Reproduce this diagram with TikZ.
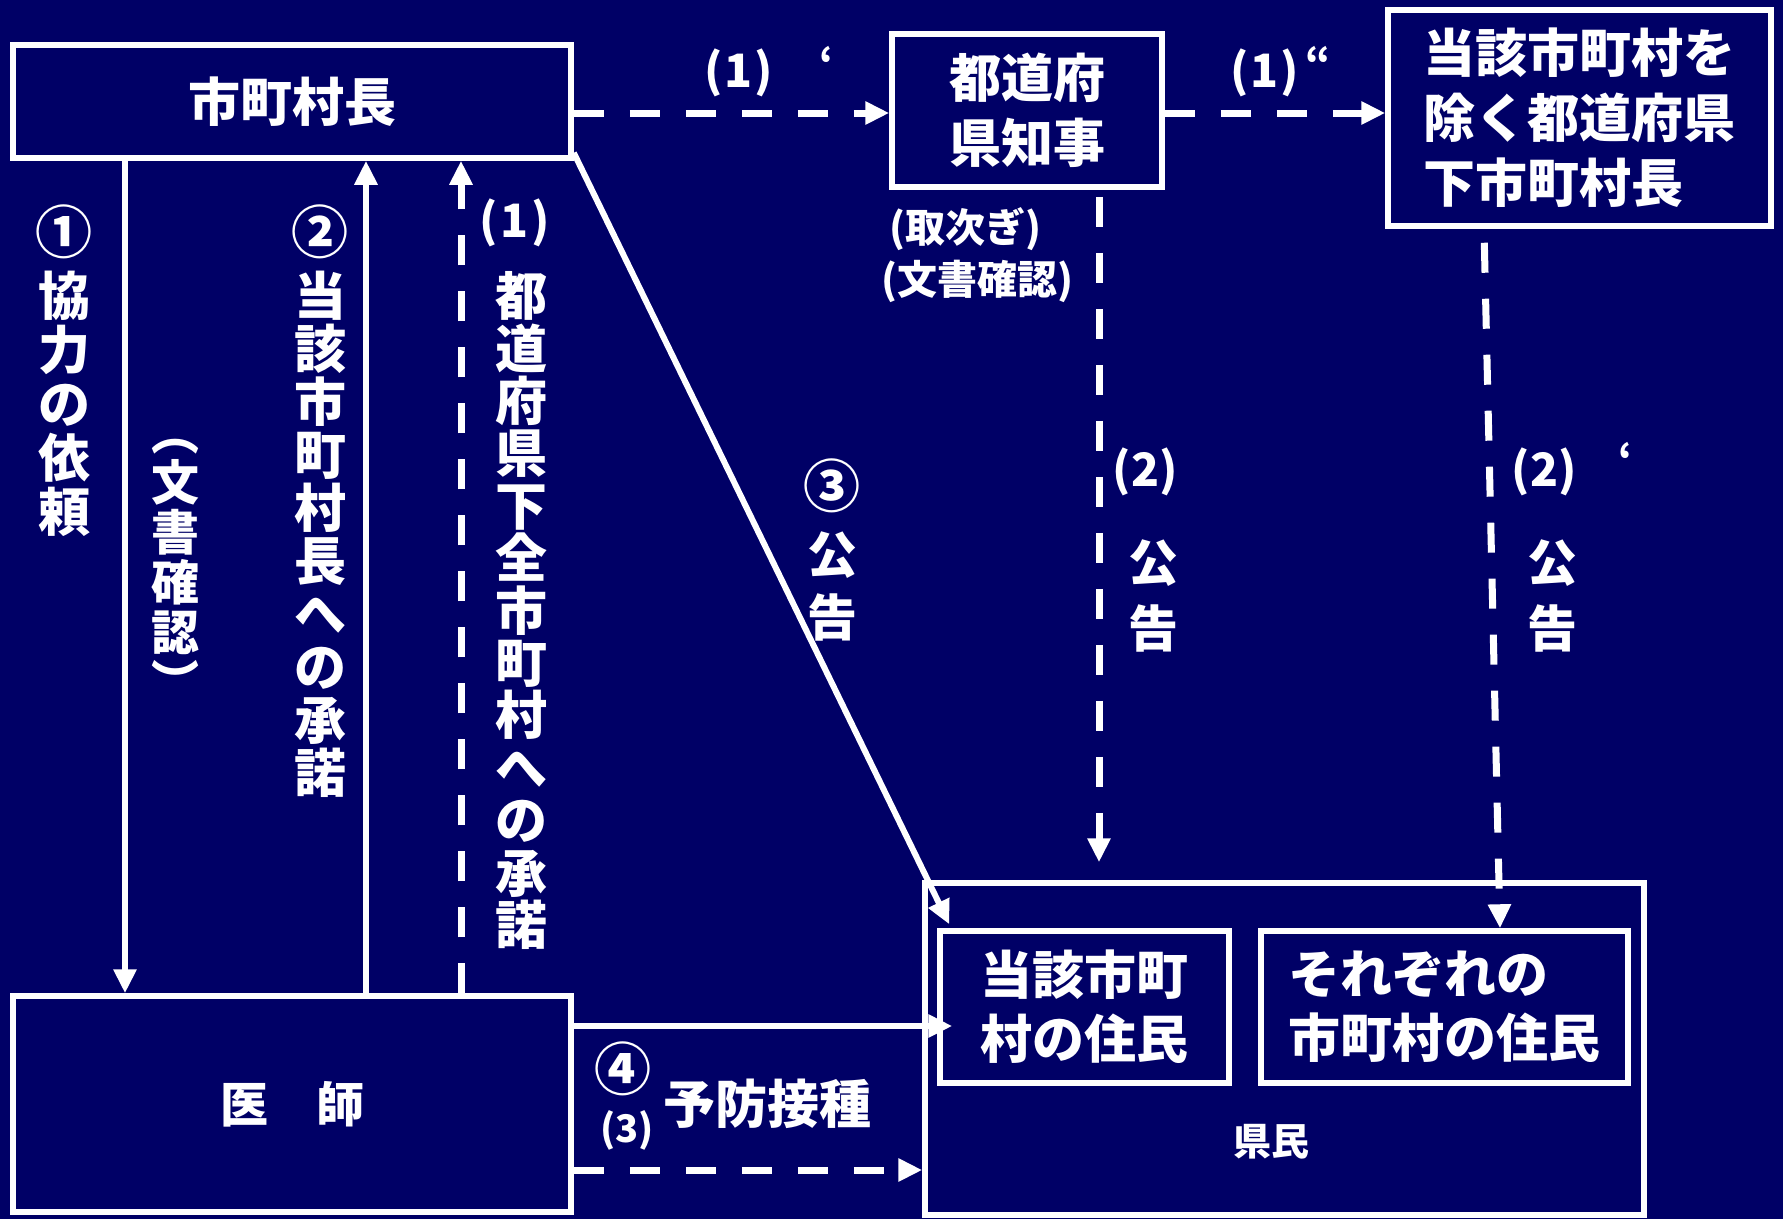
\documentclass[tikz,border=0pt]{standalone}
\usepackage{fontspec}
\setmainfont{Noto Sans CJK JP}
\usetikzlibrary{arrows.meta}
\definecolor{bg}{RGB}{0,0,102}
\newcommand{\jfs}[2]{\bfseries\fontsize{#1}{#2}\selectfont}
\begin{document}
\begin{tikzpicture}[x=1pt,y=-1pt,
  box/.style={draw=white,line width=5.5pt,inner sep=0pt,text=white,align=center,font=\jfs{52}{65}},
  lbl/.style={text=white,inner sep=0pt,align=center,font=\jfs{52}{65}},
  circ/.style={lbl,font=\jfs{57}{60}},
  arr/.style={draw=white,line width=6pt,-{Triangle[length=24pt,width=22pt]}},
  darr/.style={draw=white,line width=7pt,dash pattern=on 30pt off 26pt,-{Triangle[length=24pt,width=22pt]}}]
\fill[bg] (0,0) rectangle (1783,1219);
\useasboundingbox (0,0) rectangle (1783,1219);

% boxes
\node[box,minimum width=558pt,minimum height=113pt] (A) at (292,101.5) {市町村長};
\node[box,minimum width=270pt,minimum height=153pt] (B) at (1027,110.5) {都道府\\県知事};
\node[box,minimum width=383pt,minimum height=216pt,align=left] (C) at (1579.5,118) {当該市町村を\\除く都道府県\\下市町村長};
\node[box,minimum width=558pt,minimum height=216pt,font=\jfs{48}{60}] (D) at (292,1104) {医　師};
\node[box,minimum width=719pt,minimum height=332pt] (E) at (1284.5,1049) {};
\node[box,minimum width=289pt,minimum height=152pt,font=\jfs{52}{64}] (F) at (1084.5,1007) {当該市町\\村の住民};
\node[box,minimum width=367pt,minimum height=152pt,align=left,font=\jfs{52}{64}] (G) at (1444.5,1007) {それぞれの\\市町村の住民};
\node[lbl,font=\jfs{38}{44}] (kenmin) at (1271,1142) {県民};

% helper coordinates
\coordinate (ab) at (0,113);
\coordinate (c1) at (125,0);
\coordinate (c2) at (366,0);
\coordinate (c3) at (461,0);
\coordinate (c4) at (1099,0);
\coordinate (c5) at (1484,0);
\coordinate (c6) at (1500,0);
\coordinate (df) at (0,1026);
\coordinate (de) at (0,1170);

% connectors
\draw[darr] (A.east |- ab) -- (B.west |- ab);
\draw[darr] (B.east |- ab) -- (C.west |- ab);
\draw[arr] (c1 |- A.south) -- (c1 |- D.north);
\draw[arr] (c2 |- D.north) -- (c2 |- A.south);
\draw[darr] (c3 |- D.north) -- (c3 |- A.south);
\draw[arr] ([yshift=8pt]A.south east) -- ([xshift=12pt,yshift=4pt]F.north west);
\draw[darr,shorten <=7pt,shorten >=18pt] (c4 |- B.south) -- (c4 |- E.north);
\draw[darr,shorten <=14pt] (c5 |- C.south) -- (c6 |- G.north);
\draw[arr,shorten >=-15pt] (D.east |- df) -- (F.west |- df);
\draw[darr] (D.east |- de) -- (E.west |- de);

% labels on top connectors
\node[lbl,font=\jfs{46}{50}] (l1a) at (739,73) {(\kern2pt1\kern2pt)};
\node[lbl,font=\jfs{40}{44}] (l1aq) at (827,62) {‘};
\node[lbl,font=\jfs{46}{50}] (l1b) at (1265,73) {(\kern2pt1\kern2pt)};
\node[lbl,font=\jfs{40}{44}] (l1bq) at (1318,62) {“};
\node[lbl,font=\jfs{40}{50}] (tori) at (965,229) {(取次ぎ)};
\node[lbl,font=\jfs{40}{50}] (bun2) at (977,281) {(文書確認)};

% left vertical labels
\node[circ] (n1) at (64,232) {①};
\node[lbl,font=\jfs{52}{54}] (v1) at (64,403.5) {協\\力\\の\\依\\頼};
\node[lbl,font=\jfs{48}{50}] (v2) at (175,558) {\vphantom{国}︵\\文\\書\\確\\認\\︶\vphantom{国}};
\node[circ] (n2) at (320,232) {②};
\node[lbl,font=\jfs{52}{53}] (v3) at (320,534.5) {当\\該\\市\\町\\村\\長\\へ\\の\\承\\諾};
\node[lbl,font=\jfs{46}{50}] (n1v) at (515,223) {(\kern3pt1\kern3pt)};
\node[lbl,font=\jfs{52}{52.4}] (v4) at (521,610.5) {都\\道\\府\\県\\下\\全\\市\\町\\村\\へ\\の\\承\\諾};

% middle labels
\node[circ] (n3) at (832,486) {③};
\node[lbl,font=\jfs{50}{63}] (k3) at (832,586.5) {公\\告};
\node[lbl,font=\jfs{46}{50}] (p2a) at (1145,472) {(2)};
\node[lbl,font=\jfs{50}{66}] (k2a) at (1153,596) {公\\告};
\node[lbl,font=\jfs{46}{50}] (p2b) at (1544,472) {(2)};
\node[lbl,font=\jfs{40}{44}] (p2bq) at (1626,458) {‘};
\node[lbl,font=\jfs{50}{66}] (k2b) at (1552,596) {公\\告};

% bottom labels
\node[circ] (n4) at (623,1069) {④};
\node[lbl,font=\jfs{38}{44}] (p3) at (627,1130) {(3)};
\node[lbl,font=\jfs{52}{60}] (yobo) at (767,1104) {予防接種};
\end{tikzpicture}
\end{document}
